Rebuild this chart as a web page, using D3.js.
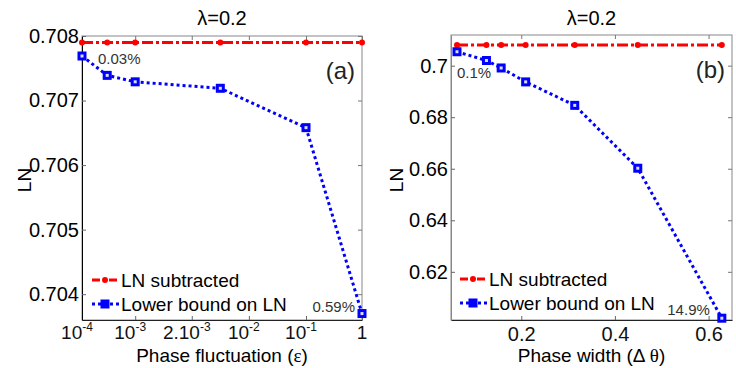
<!DOCTYPE html>
<html>
<head>
<meta charset="utf-8">
<script src="https://cdn.jsdelivr.net/npm/d3@7"></script>
<style>
	body { margin: 0; background: #fff; }
	text { font-family: Arial, "Liberation Sans", sans-serif; }
</style>
</head>
<body>
<main></main>
<script>
// Data

// panel (a): x is the position along the (non uniform) epsilon axis
const aTickPos = [0, 0.95, 1.96, 2.98, 4, 5];
const aTickLabels = [["10", "-4"], ["10", "-3"], ["2.10", "-3"], ["10", "-2"], ["10", "-1"], ["1", ""]];
const aX = [0, 0.45, 0.95, 2.47, 4, 5];
const aSubtracted = [0.7079, 0.7079, 0.7079, 0.7079, 0.7079, 0.7079];
const aLower = [0.70769, 0.70739, 0.70729, 0.70719, 0.70658, 0.70370];
const aYTicks = [0.704, 0.705, 0.706, 0.707, 0.708];

// panel (b): phase width
const bX = [0.0628, 0.1257, 0.1571, 0.2094, 0.3142, 0.4488, 0.6283];
const bSubtracted = [0.708, 0.708, 0.708, 0.708, 0.708, 0.708, 0.708];
const bLower = [0.7054, 0.7020, 0.6991, 0.6937, 0.6846, 0.6602, 0.6020];
const bXTicks = [0.2, 0.4, 0.6];
const bYTicks = [0.62, 0.64, 0.66, 0.68, 0.7];

const legendLabels = ["LN subtracted", "Lower bound on LN"];

const svg = d3.select("main")
	.append("svg")
		.attr("width", 736)
		.attr("height", 368);

function drawPanel(p) {
	const g = svg.append("g");

	const xScale = d3.scaleLinear().domain(p.xDomain).range([p.left, p.right]);
	const yScale = d3.scaleLinear().domain(p.yDomain).range([p.bottom, p.top]);

	// box
	g.append("rect")
		.attr("x", p.left).attr("y", p.top)
		.attr("width", p.right - p.left).attr("height", p.bottom - p.top)
		.attr("fill", "none").attr("stroke", "#888").attr("stroke-width", 1);

	// axes (ticks inward)
	const xGen = d3.axisBottom(xScale).tickValues(p.xTicks).tickSizeInner(-4).tickSizeOuter(0)
		.tickFormat(p.xLabels ? "" : d3.format(".1f"));
	const xAxis = g.append("g")
		.attr("transform", `translate(0,${p.bottom})`)
		.call(xGen);
	const xAxisTop = g.append("g")
		.attr("transform", `translate(0,${p.top})`)
		.call(d3.axisTop(xScale).tickValues(p.xTicks).tickSizeInner(-4).tickSizeOuter(0).tickFormat(""));
	const yAxis = g.append("g")
		.attr("transform", `translate(${p.left},0)`)
		.call(d3.axisLeft(yScale).tickValues(p.yTicks).tickSizeInner(-4).tickSizeOuter(0)
			.tickFormat(d3.format(p.yFormat)));
	const yAxisRight = g.append("g")
		.attr("transform", `translate(${p.right},0)`)
		.call(d3.axisRight(yScale).tickValues(p.yTicks).tickSizeInner(-4).tickSizeOuter(0).tickFormat(""));

	[xAxisTop, yAxisRight].forEach(a => {
		a.select(".domain").remove();
		a.selectAll("line").attr("stroke", "#777");
	});
	xAxis.select(".domain").attr("stroke", p.xAxisColor);
	yAxis.select(".domain").attr("stroke", p.yAxisColor);
	xAxis.selectAll("line").attr("stroke", "#666");
	yAxis.selectAll("line").attr("stroke", "#666");

	yAxis.selectAll("text")
		.attr("x", -3)
		.style("font-size", "20px")
		.attr("fill", "#000");
	xAxis.selectAll("text")
		.attr("y", 7)
		.style("font-size", "20px")
		.attr("fill", "#111");

	// x tick labels with exponents
	if (p.xLabels) {
		const lab = g.append("g").selectAll("text")
			.data(p.xTicks)
			.join("text")
				.attr("x", (d, i) => xScale(d) - (p.xLabels[i][1] ? 5 : 0))
				.attr("y", p.bottom + 19)
				.attr("text-anchor", "middle")
				.style("font-size", "19px")
				.attr("fill", "#111");
		lab.append("tspan").text((d, i) => p.xLabels[i][0]);
		lab.append("tspan")
			.attr("dy", -8)
			.style("font-size", "12px")
			.text((d, i) => p.xLabels[i][1]);
	}

	// red line: LN subtracted
	const line = d3.line().x(d => xScale(d[0])).y(d => yScale(d[1]));
	const redPts = p.xs.map((x, i) => [x, p.subtracted[i]]);
	const bluePts = p.xs.map((x, i) => [x, p.lower[i]]);

	g.append("path")
		.datum(redPts)
		.attr("d", line)
		.attr("fill", "none")
		.attr("stroke", "#ff0000")
		.attr("stroke-width", 3)
		.attr("stroke-dasharray", "11,3,3,3");
	g.selectAll(".rdot")
		.data(redPts)
		.join("circle")
			.attr("class", "rdot")
			.attr("cx", d => xScale(d[0]))
			.attr("cy", d => yScale(d[1]))
			.attr("r", 3)
			.attr("fill", "#ff0000");

	// blue line: lower bound
	g.append("path")
		.datum(bluePts)
		.attr("d", line)
		.attr("fill", "none")
		.attr("stroke", "#0000ff")
		.attr("stroke-width", 3)
		.attr("stroke-dasharray", "3,3");
	g.selectAll(".bsq")
		.data(bluePts)
		.join("rect")
			.attr("class", "bsq")
			.attr("x", d => xScale(d[0]) - 3)
			.attr("y", d => yScale(d[1]) - 3)
			.attr("width", 6)
			.attr("height", 6)
			.attr("fill", "#dde")
			.attr("stroke", "#0000ff")
			.attr("stroke-width", 3);

	// percentage notes
	p.notes.forEach(n => {
		g.append("text")
			.attr("x", xScale(p.xs[n.i]) + n.dx)
			.attr("y", yScale(p.lower[n.i]) + n.dy)
			.attr("text-anchor", n.anchor)
			.style("font-size", "15px")
			.attr("fill", "#333")
			.text(n.text);
	});

	// panel tag
	g.append("text")
		.attr("x", p.right - 7)
		.attr("y", p.top + 43)
		.attr("text-anchor", "end")
		.style("font-size", "24px")
		.attr("fill", "#222")
		.text(p.tag);

	// title
	g.append("text")
		.attr("x", (p.left + p.right) / 2)
		.attr("y", 25)
		.attr("text-anchor", "middle")
		.style("font-size", "20px")
		.attr("fill", "#000")
		.text("λ=0.2");

	// axis labels
	const xl = g.append("text")
		.attr("x", (p.left + p.right) / 2)
		.attr("y", 362)
		.attr("text-anchor", "middle")
		.style("font-size", "19px")
		.attr("fill", "#000");
	xl.append("tspan").text(p.xTitle[0]);
	xl.append("tspan").style("font-family", "'Liberation Serif', serif").text(p.xTitle[1]);
	xl.append("tspan").text(p.xTitle[2]);

	g.append("text")
		.attr("transform", `translate(${p.yTitleX},180) rotate(-90)`)
		.attr("text-anchor", "middle")
		.style("font-size", "19px")
		.attr("fill", "#000")
		.text("LN");

	// legend
	const lg = g.append("g");
	const sx = p.legendX;
	[0, 1].forEach(i => {
		const y = p.legendY + i * 24;
		lg.append("line")
			.attr("x1", sx).attr("x2", sx + 27)
			.attr("y1", y).attr("y2", y)
			.attr("stroke", i === 0 ? "#ff0000" : "#0000ff")
			.attr("stroke-width", 3)
			.attr("stroke-dasharray", i === 0 ? "8,3,3,3" : "3,3");
		if (i === 0) {
			lg.append("circle").attr("cx", sx + 13).attr("cy", y).attr("r", 3).attr("fill", "#ff0000");
		} else {
			lg.append("rect").attr("x", sx + 10).attr("y", y - 3).attr("width", 6).attr("height", 6)
				.attr("fill", "#0000ff").attr("stroke", "#0000ff").attr("stroke-width", 3);
		}
		lg.append("text")
			.attr("x", sx + 29)
			.attr("y", y + 7)
			.style("font-size", "19px")
			.attr("fill", "#000")
			.text(legendLabels[i]);
	});
}

drawPanel({
	left: 82, right: 362, top: 36, bottom: 320,
	xDomain: [0, 5], yDomain: [0.7036, 0.708],
	xTicks: aTickPos, xLabels: aTickLabels,
	yTicks: aYTicks, yFormat: ".3f",
	xs: aX, subtracted: aSubtracted, lower: aLower,
	xAxisColor: "#222", yAxisColor: "#000",
	notes: [
		{ i: 0, dx: 16, dy: 8, anchor: "start", text: "0.03%" },
		{ i: 5, dx: -7, dy: -2, anchor: "end", text: "0.59%" },
	],
	tag: "(a)",
	xTitle: ["Phase fluctuation (", "ε", ")"],
	yTitleX: 31,
	legendX: 92, legendY: 280,
});

drawPanel({
	left: 451, right: 732, top: 35, bottom: 320,
	xDomain: [0.05, 0.65], yDomain: [0.6013, 0.7119],
	xTicks: bXTicks, xLabels: null,
	yTicks: bYTicks, yFormat: "",
	xs: bX, subtracted: bSubtracted, lower: bLower,
	xAxisColor: "#222", yAxisColor: "#888",
	notes: [
		{ i: 0, dx: 0, dy: 26, anchor: "start", text: "0.1%" },
		{ i: 6, dx: -12, dy: -3, anchor: "end", text: "14.9%" },
	],
	tag: "(b)",
	xTitle: ["Phase width (Δ ", "θ", ")"],
	yTitleX: 403,
	legendX: 460, legendY: 279,
});
</script>
</body>
</html>
